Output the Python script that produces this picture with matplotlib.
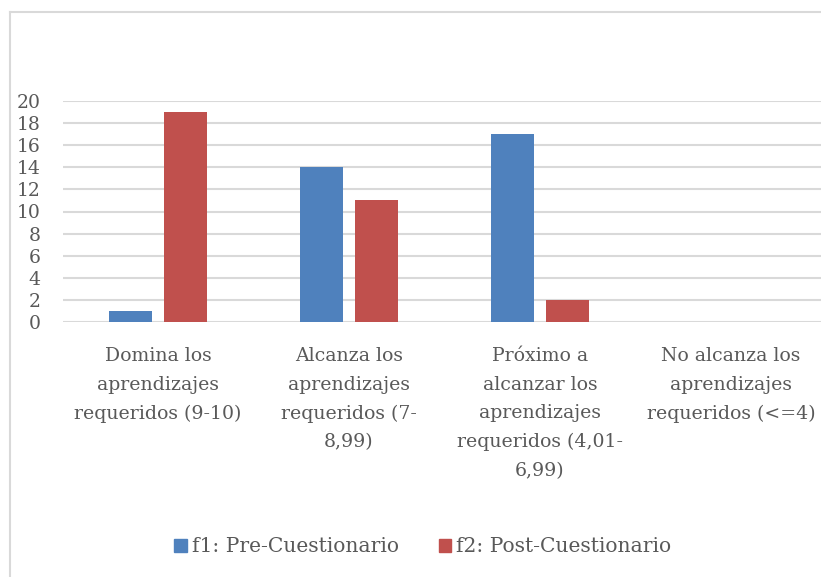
import matplotlib
matplotlib.use("Agg")
import matplotlib.pyplot as plt
from matplotlib.lines import Line2D
from matplotlib.patches import Patch
import numpy as np

categories = [
    "Domina los\naprendizajes\nrequeridos (9-10)",
    "Alcanza los\naprendizajes\nrequeridos (7-\n8,99)",
    "Próximo a\nalcanzar los\naprendizajes\nrequeridos (4,01-\n6,99)",
    "No alcanza los\naprendizajes\nrequeridos (<=4)",
]
pre_values = [1, 14, 17, 0]
post_values = [19, 11, 2, 0]
series_names = ["f1: Pre-Cuestionario", "f2: Post-Cuestionario"]
yticks = list(range(0, 21, 2))

BLUE = "#4F81BD"
RED = "#C0504D"
TXT = "#595959"
GRID = "#D9D9D9"
FONT = ["DejaVu Serif"]

plt.rcParams["font.family"] = FONT

fig = plt.figure(figsize=(8.21, 5.77), dpi=100)
ax = fig.add_axes([62.5 / 821, 1 - 322 / 577, 764 / 821, 221 / 577])

x = np.arange(len(categories))
bw = 0.225
off = 0.144
ax.bar(x - off, pre_values, bw, color=BLUE, zorder=3)
ax.bar(x + off, post_values, bw, color=RED, zorder=3)

ax.set_xlim(-0.5, len(categories) - 0.5)
ax.set_ylim(0, 20)
ax.set_yticks(yticks)
ax.set_yticklabels([str(t) for t in yticks], fontsize=13.5, color=TXT)
ax.tick_params(axis="y", length=0, pad=16)
ax.set_xticks(x)
ax.set_xticklabels(categories, fontsize=13.6, color=TXT, linespacing=1.76, va="top")
ax.tick_params(axis="x", length=0, pad=18)
ax.yaxis.grid(True, color=GRID, linewidth=1.5, zorder=0)
ax.set_axisbelow(True)
for s in ax.spines.values():
    s.set_visible(False)

handles = [Patch(color=BLUE, label=series_names[0]), Patch(color=RED, label=series_names[1])]
leg = fig.legend(handles=handles, loc="center", bbox_to_anchor=(423 / 821, 1 - 547 / 577),
                 ncol=2, frameon=False, fontsize=14.6, handlelength=0.6, handleheight=0.6,
                 handletextpad=0.25, columnspacing=2.0, labelcolor=TXT)

# chart border (Excel-like frame)
fig.add_artist(Line2D([9.5 / 821, 9.5 / 821], [0, 1 - 12 / 577], color=GRID, lw=1.5))
fig.add_artist(Line2D([9.5 / 821, 1], [1 - 12 / 577, 1 - 12 / 577], color=GRID, lw=1.5))

fig.savefig("out.png", dpi=100)
